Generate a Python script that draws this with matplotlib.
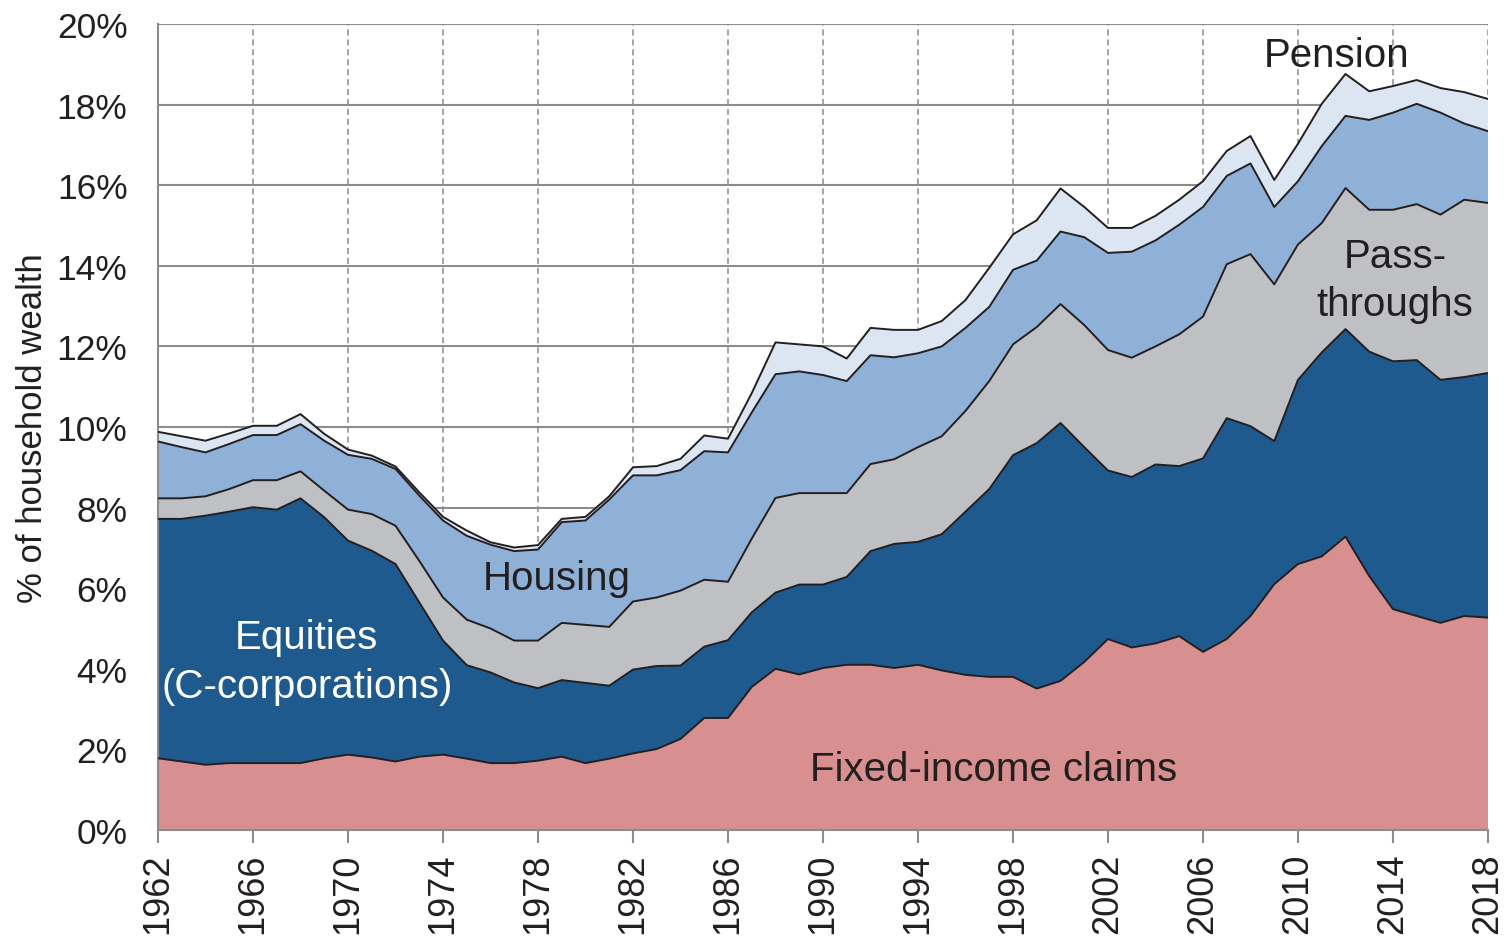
import matplotlib
matplotlib.use("Agg")
import matplotlib.pyplot as plt
import numpy as np

plt.rcParams["font.family"] = ["Liberation Sans", "DejaVu Sans"]

years = list(range(1962, 2019))

# shares of household wealth (%), one value per year 1962..2018
fixed_income = [
    1.78, 1.70, 1.62, 1.66, 1.66, 1.66, 1.66, 1.78, 1.87, 1.80,
    1.70, 1.82, 1.87, 1.77, 1.66, 1.66, 1.72, 1.82, 1.66, 1.77,
    1.90, 2.01, 2.26, 2.78, 2.78, 3.55, 4.00, 3.86, 4.02, 4.10,
    4.10, 4.02, 4.10, 3.96, 3.85, 3.80, 3.80, 3.51, 3.70, 4.17,
    4.74, 4.53, 4.63, 4.81, 4.42, 4.74, 5.31, 6.10, 6.60, 6.79,
    7.28, 6.30, 5.48, 5.31, 5.14, 5.31, 5.27,
]
equities = [
    5.94, 6.02, 6.18, 6.24, 6.35, 6.29, 6.57, 5.98, 5.31, 5.13,
    4.90, 3.83, 2.83, 2.32, 2.25, 2.00, 1.80, 1.90, 1.99, 1.81,
    2.08, 2.06, 1.82, 1.77, 1.93, 1.85, 1.89, 2.23, 2.07, 2.18,
    2.82, 3.08, 3.05, 3.38, 4.05, 4.66, 5.50, 6.09, 6.40, 5.33,
    4.18, 4.23, 4.44, 4.22, 4.80, 5.48, 4.71, 3.55, 4.57, 5.06,
    5.15, 5.57, 6.15, 6.35, 6.03, 5.93, 6.07,
]
pass_throughs = [
    0.51, 0.51, 0.48, 0.56, 0.67, 0.73, 0.67, 0.66, 0.77, 0.91,
    0.95, 1.03, 1.07, 1.13, 1.09, 1.04, 1.18, 1.42, 1.44, 1.46,
    1.69, 1.70, 1.86, 1.66, 1.45, 1.83, 2.35, 2.27, 2.27, 2.08,
    2.16, 2.10, 2.35, 2.43, 2.50, 2.68, 2.75, 2.88, 2.95, 3.03,
    2.99, 2.96, 2.93, 3.27, 3.52, 3.82, 4.27, 3.89, 3.36, 3.21,
    3.50, 3.52, 3.76, 3.87, 4.10, 4.40, 4.22,
]
housing = [
    1.41, 1.27, 1.09, 1.12, 1.12, 1.12, 1.17, 1.24, 1.36, 1.37,
    1.41, 1.62, 1.91, 2.08, 2.08, 2.22, 2.26, 2.50, 2.59, 3.16,
    3.13, 3.03, 2.99, 3.19, 3.21, 3.13, 3.07, 3.02, 2.93, 2.78,
    2.70, 2.53, 2.33, 2.23, 2.06, 1.84, 1.85, 1.65, 1.80, 2.18,
    2.41, 2.63, 2.63, 2.72, 2.72, 2.19, 2.25, 1.92, 1.57, 1.91,
    1.79, 2.23, 2.41, 2.49, 2.53, 1.89, 1.78,
]
pension = [
    0.24, 0.27, 0.29, 0.26, 0.23, 0.23, 0.25, 0.17, 0.13, 0.08,
    0.06, 0.08, 0.09, 0.13, 0.06, 0.09, 0.11, 0.08, 0.09, 0.08,
    0.20, 0.23, 0.28, 0.39, 0.34, 0.48, 0.79, 0.67, 0.71, 0.56,
    0.68, 0.68, 0.58, 0.63, 0.69, 0.97, 0.88, 1.00, 1.07, 0.75,
    0.62, 0.59, 0.61, 0.62, 0.64, 0.62, 0.68, 0.67, 0.93, 1.05,
    1.04, 0.71, 0.66, 0.59, 0.61, 0.78, 0.80,
]

layers = [fixed_income, equities, pass_throughs, housing, pension]
colors = ["#d88f8f", "#1f5a8f", "#bfc0c4", "#8fb0d7", "#dbe6f2"]
ink = "#231f20"
grid_grey = "#8c8c8c"

fig = plt.figure(figsize=(15.08, 9.37), dpi=100)
ax = fig.add_axes([158 / 1508, 1 - 831 / 937, 1330 / 1508, 806 / 937])

x = np.array(years)
stack = np.cumsum(np.array(layers), axis=0)
bottom = np.zeros(len(x))
for top, c in zip(stack, colors):
    ax.fill_between(x, bottom, top, facecolor=c, edgecolor="none", zorder=2)
    ax.plot(x, top, color=ink, lw=1.4, zorder=3)
    bottom = top

ax.set_xlim(1962, 2018)
ax.set_ylim(0, 20)
ax.set_xticks(range(1962, 2019, 4))
ax.set_xticklabels([str(y) for y in range(1962, 2019, 4)], rotation=90, fontsize=26, color=ink)
ax.set_yticks(range(0, 21, 2))
ax.set_yticklabels([f"{v}%" for v in range(0, 21, 2)], fontsize=25.5, color=ink)

ax.set_axisbelow(True)
ax.yaxis.grid(True, color=grid_grey, lw=1.5, ls="-", zorder=0)
ax.xaxis.grid(True, color=grid_grey, lw=1.1, ls=(0, (4, 2.5)), zorder=0)

for side in ["top", "right"]:
    ax.spines[side].set_visible(False)
for side in ["left", "bottom"]:
    ax.spines[side].set_color(grid_grey)
    ax.spines[side].set_linewidth(1.5)
ax.tick_params(axis="y", length=0, pad=22)
ax.tick_params(axis="x", length=9, width=1.5, color=grid_grey, pad=7)

ax.set_ylabel("% of household wealth", fontsize=25, color=ink)
ax.yaxis.set_label_coords(-0.082, 0.5)

ax.text(2011.64, 19.22, "Pension", fontsize=29, color=ink, ha="center", va="center", zorder=4)
ax.text(1978.8, 6.25, "Housing", fontsize=29, color=ink, ha="center", va="center", zorder=4)
ax.text(1968.27, 4.18, "Equities\n(C-corporations)", fontsize=29, color="white",
        ha="center", va="center", multialignment="center", linespacing=1.34, zorder=4)
ax.text(2014.08, 13.65, "Pass-\nthroughs", fontsize=29, color=ink,
        ha="center", va="center", multialignment="center", linespacing=1.32, zorder=4)
ax.text(1997.2, 1.52, "Fixed-income claims", fontsize=29, color=ink, ha="center", va="center", zorder=4)

fig.savefig("out.png", dpi=100)
